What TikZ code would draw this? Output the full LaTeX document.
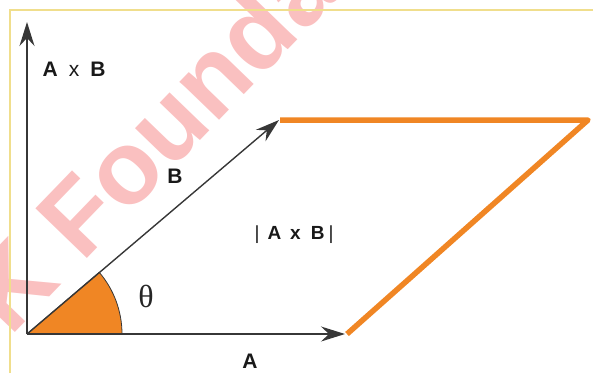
\documentclass[tikz,border=0pt]{standalone}
\usepackage{fontspec}
\setmainfont{Liberation Sans}
\newfontfamily\serifgr{Liberation Serif}
\usetikzlibrary{arrows.meta}
\definecolor{orangeF}{RGB}{240,134,36}
\definecolor{darkline}{RGB}{55,55,55}
\definecolor{frameY}{RGB}{240,222,140}
\definecolor{wmpink}{RGB}{250,192,192}
\begin{document}
\begin{tikzpicture}[x=1pt,y=-1pt,
 vec/.style={draw=darkline, line width=1.4pt, -{Stealth[length=24pt,width=15pt,inset=8pt]}},
 side/.style={draw=orangeF, line width=5.5pt, line join=round},
 lbl/.style={font=\fontsize{21}{23}\selectfont\bfseries, text=black!90, inner sep=0pt, anchor=base},
]
\useasboundingbox (0,0) rectangle (593,373);
\begin{scope}
\clip (0,0) rectangle (593,373);
\node[font=\fontsize{104}{104}\selectfont\bfseries, text=wmpink, rotate=46, anchor=base west, inner sep=0pt] (wm) at (10,338) {K Foundation};
\end{scope}
\coordinate (f1) at (10,373);
\coordinate (f2) at (10,10);
\coordinate (f3) at (593,10);
\draw[frameY, line width=1.5pt] (f1) -- (f2) -- (f3);
\coordinate (O) at (27,334);
\coordinate (zt) at (27,22);
\coordinate (at) at (345,334);
\coordinate (bt) at (279,120);
\coordinate (p1) at (347,334);
\coordinate (p2) at (588,120);
\coordinate (p3) at (280,120);
\fill[orangeF] (O) -- ++(-40.5:95) arc[start angle=-40.5, end angle=0, radius=95] -- cycle;
\draw[darkline, line width=0.8pt] (O) -- ++(-40.5:95) arc[start angle=-40.5, end angle=0, radius=95];
\draw[side] (p3) -- (p2) -- (p1);
\draw[vec] (O) -- (zt);
\draw[vec] (O) -- (at);
\draw[vec] (O) -- (bt);
\node[lbl] (laxb) at (74,76) {A\hspace{11pt}{\mdseries x}\hspace{11pt}B};
\node[lbl] (lb) at (175,183) {B};
\node[lbl, font=\fontsize{19}{21}\selectfont\bfseries] (larea) at (294,239) {{\mdseries|}\hspace{8pt}A\hspace{9pt}x\hspace{10pt}B\hspace{4pt}{\mdseries|}};
\node[inner sep=0pt, anchor=base, font=\serifgr\fontsize{32}{32}\selectfont, text=black!85] (lth) at (146,307) {θ};
\node[lbl] (la) at (250,368) {A};
\end{tikzpicture}
\end{document}
